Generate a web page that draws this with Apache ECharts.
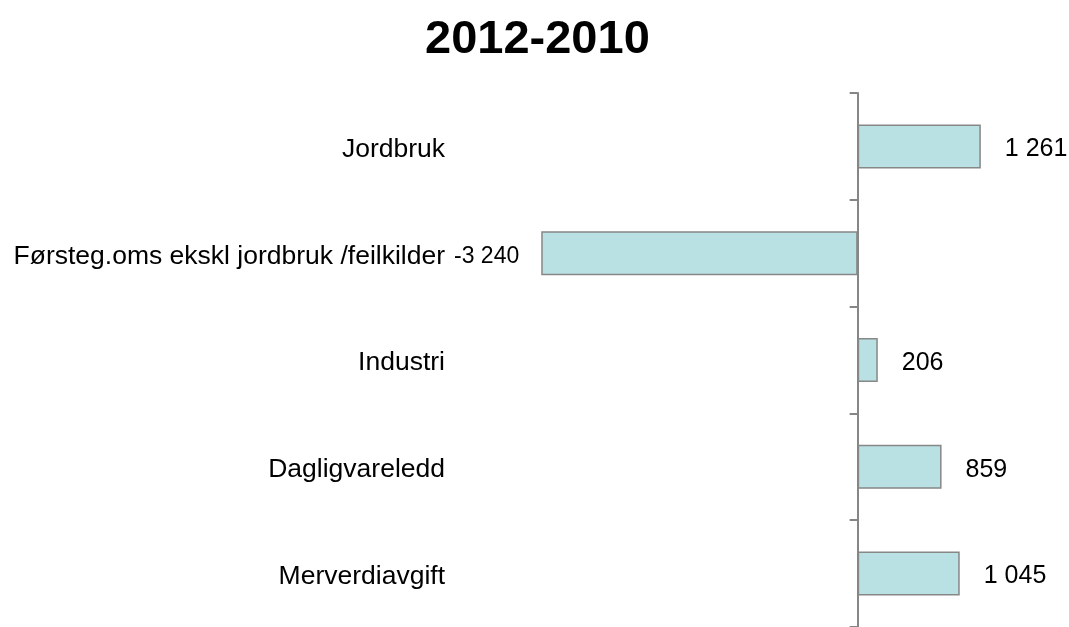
<!DOCTYPE html>
<html>
<head>
<meta charset="utf-8">
<script src="https://cdn.jsdelivr.net/npm/echarts@6/dist/echarts.min.js"></script>
<style>
html,body{margin:0;padding:0;background:#fff;}
#c{width:1069px;height:627px;}
</style>
</head>
<body>
<div id="c"></div>
<script>
const titleText = '2012-2010';
const categories = ['Jordbruk', 'Førsteg.oms ekskl jordbruk /feilkilder', 'Industri', 'Dagligvareledd', 'Merverdiavgift'];
const values = [1261, -3240, 206, 859, 1045];

function fmt(v) {
  const s = Math.abs(v).toString().replace(/\B(?=(\d{3})+(?!\d))/g, ' ');
  return (v < 0 ? '-' : '') + s;
}

const chart = echarts.init(document.getElementById('c'));
chart.setOption({
  backgroundColor: '#ffffff',
  animation: false,
  title: {
    text: titleText,
    left: 420,
    top: 12,
    textStyle: { fontFamily: 'Liberation Sans', fontSize: 47, fontWeight: 'bold', color: '#000' }
  },
  grid: { left: 467, right: 16, top: 93, bottom: -2 },
  xAxis: { type: 'value', min: -4000, max: 2000, show: false },
  yAxis: [
    {
      type: 'category', data: categories, inverse: true, position: 'left',
      axisLine: { show: true, onZero: true, lineStyle: { color: '#868686', width: 2 } },
      axisTick: { show: true, length: 8, lineStyle: { color: '#868686', width: 2 } },
      axisLabel: { show: false },
      splitLine: { show: false }
    },
    {
      type: 'category', data: categories, inverse: true, position: 'left',
      axisLine: { show: false, onZero: false },
      axisTick: { show: false },
      axisLabel: {
        show: true, margin: 22,
        formatter: v => '{a|' + v + '}',
        rich: { a: { padding: [6, 0, 0, 0], fontFamily: 'Liberation Sans', fontSize: 26.5, color: '#000' } }
      },
      splitLine: { show: false }
    }
  ],
  series: [{
    type: 'bar',
    yAxisIndex: 0,
    barWidth: 44,
    data: values.map(v => ({
      value: v,
      label: v < 0
        ? { position: 'left', distance: 22, fontSize: 23 }
        : { position: 'right', distance: 24 }
    })),
    itemStyle: { color: '#B9E0E3', borderColor: '#878787', borderWidth: 1.5 },
    label: {
      show: true,
      offset: [0, 3],
      fontFamily: 'Liberation Sans', fontSize: 25, color: '#000',
      formatter: p => fmt(p.value)
    }
  }]
});
</script>
</body>
</html>
